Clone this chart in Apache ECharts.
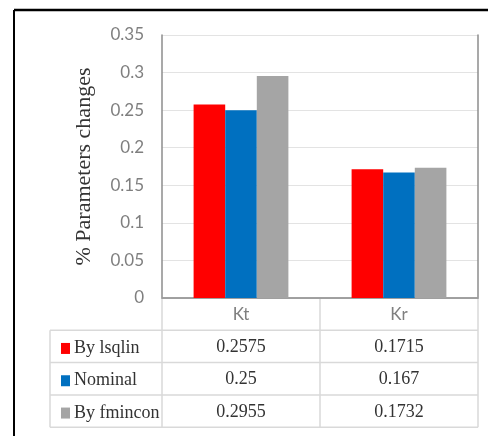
<!DOCTYPE html>
<html>
<head>
<meta charset="utf-8">
<script src="https://cdn.jsdelivr.net/npm/echarts@6/dist/echarts.min.js"></script>
<style>
html,body{margin:0;padding:0;background:#fff;}
#chart{width:488px;height:436px;}
</style>
</head>
<body>
<div id="chart"></div>
<script>
const categories = ['Kt', 'Kr'];
const seriesNames = ['By lsqlin', 'Nominal', 'By fmincon'];
const lsqlin = [0.2575, 0.1715];
const nominal = [0.25, 0.167];
const fmincon = [0.2955, 0.1732];
const tableText = [['0.2575', '0.1715'], ['0.25', '0.167'], ['0.2955', '0.1732']];
const colors = ['#ff0000', '#0070c0', '#a5a5a5'];
const yTitle = '% Parameters changes';

const G = {left: 162, top: 35, right: 478, bottom: 298};
const rowH = 32.3;
const tableLeft = 50;
const lineCol = '#d9d9d9';
const serif = '"Liberation Serif", "Times New Roman", serif';
const sans = 'Lato, "Open Sans", sans-serif';

const chart = echarts.init(document.getElementById('chart'), null, {renderer: 'canvas'});
const allSeries = [lsqlin, nominal, fmincon];

chart.setOption({
  animation: false,
  backgroundColor: '#fff',
  grid: {left: G.left, top: G.top, width: G.right - G.left, height: G.bottom - G.top, show: false},
  legend: {
    orient: 'vertical', left: 56, top: G.bottom + rowH + (rowH - 18) / 2 - 3,
    itemGap: rowH - 18, itemWidth: 9, itemHeight: 11, icon: 'rect',
    textStyle: {fontFamily: serif, fontSize: 18, color: '#333', lineHeight: 18, padding: [0, 0, 0, -1]},
    data: seriesNames, selectedMode: false
  },
  xAxis: [{
    type: 'category', data: categories, position: 'bottom',
    axisLine: {show: true, lineStyle: {color: lineCol, width: 1.5}},
    axisTick: {show: false},
    axisLabel: {color: '#7f7f7f', fontFamily: sans, fontSize: 17, margin: 8}
  }, {
    type: 'category', data: categories, position: 'top',
    axisLine: {show: true, lineStyle: {color: '#8c8c8c', width: 1.5}},
    axisTick: {show: false}, axisLabel: {show: false}
  }],
  yAxis: [{
    type: 'value', min: 0, max: 0.35, interval: 0.05, position: 'left',
    name: yTitle, nameLocation: 'middle', nameGap: 67, nameRotate: 90,
    nameTextStyle: {fontFamily: serif, fontSize: 22, color: '#333'},
    axisLine: {show: true, lineStyle: {color: '#8c8c8c', width: 1.5}},
    axisTick: {show: false},
    axisLabel: {color: '#7f7f7f', fontFamily: sans, fontSize: 17, margin: 18},
    splitLine: {show: true, lineStyle: {color: '#e3e3e3', width: 1}}
  }, {
    type: 'value', min: 0, max: 0.35, interval: 0.05, position: 'right',
    axisLine: {show: true, lineStyle: {color: '#8c8c8c', width: 1.5}},
    axisTick: {show: false}, axisLabel: {show: false}, splitLine: {show: false}
  }],
  series: seriesNames.map((n, i) => ({
    name: n, type: 'bar', data: allSeries[i], xAxisIndex: 0, yAxisIndex: 0,
    barGap: '0%', barCategoryGap: '40%',
    itemStyle: {color: colors[i]}
  }))
});

// data table drawn beneath the plot
const els = [];
// outer frame
els.push({type: 'line', shape: {x1: 14, y1: 10, x2: 488, y2: 10}, style: {stroke: '#000', lineWidth: 2.5}});
els.push({type: 'line', shape: {x1: 14, y1: 10, x2: 14, y2: 436}, style: {stroke: '#000', lineWidth: 2}});
const rowsY = [0, 1, 2, 3, 4].map(k => G.bottom + k * rowH);
for (let k = 1; k <= 4; k++) {
  els.push({type: 'line', shape: {x1: tableLeft, y1: rowsY[k], x2: G.right, y2: rowsY[k]}, style: {stroke: lineCol, lineWidth: 1.5}});
}
const colX = [G.left, (G.left + G.right) / 2, G.right];
colX.forEach(x => els.push({type: 'line', shape: {x1: x, y1: G.bottom, x2: x, y2: rowsY[4]}, style: {stroke: lineCol, lineWidth: 1.5}}));
els.push({type: 'line', shape: {x1: tableLeft, y1: rowsY[1], x2: tableLeft, y2: rowsY[4]}, style: {stroke: lineCol, lineWidth: 1.5}});
categories.forEach((c, j) => {
  const cx = chart.convertToPixel({xAxisIndex: 0}, c);
  tableText.forEach((row, i) => {
    els.push({type: 'text', x: cx, y: rowsY[i + 1] + rowH / 2 + 1,
      style: {text: row[j], fill: '#333', font: '18px ' + serif, textAlign: 'center', textVerticalAlign: 'middle'}});
  });
});
chart.setOption({graphic: {elements: els}});
</script>
</body>
</html>
